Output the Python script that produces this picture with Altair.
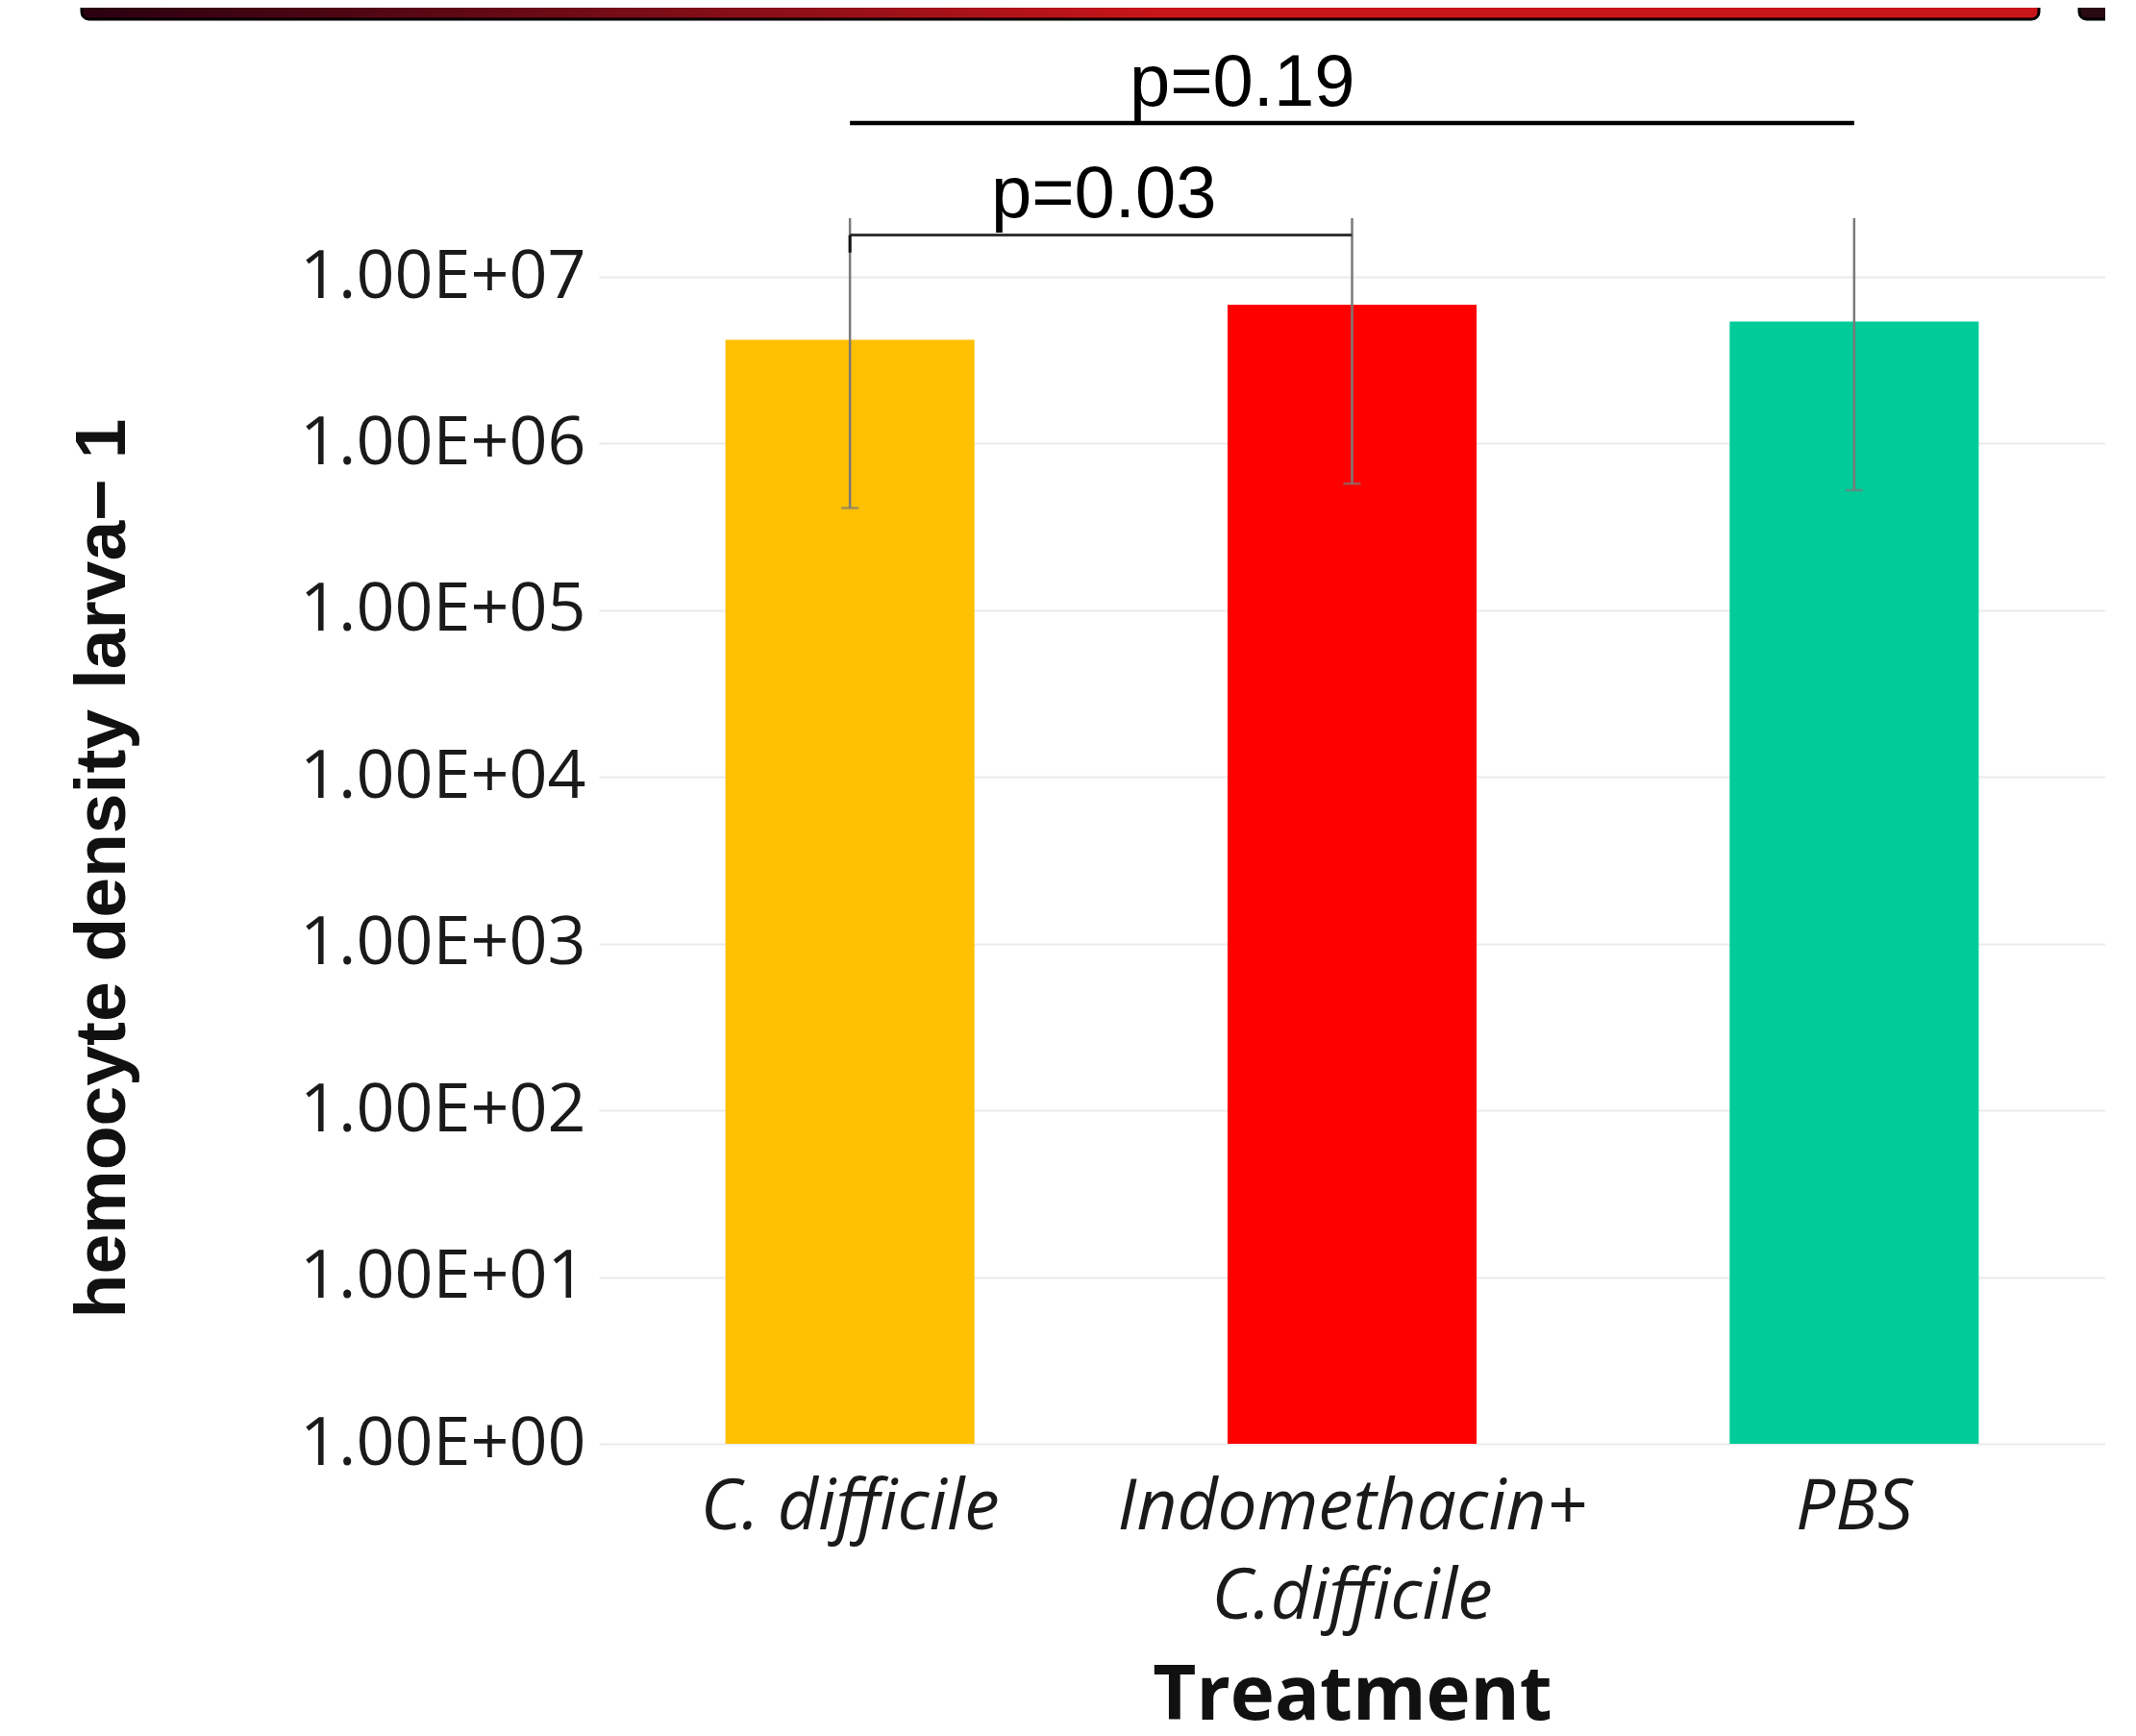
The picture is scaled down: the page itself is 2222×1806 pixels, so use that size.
import altair as alt
import pandas as pd

# ---- data ----
treatments = ["C. difficile", "Indomethacin+ C.difficile", "PBS"]
means = [4.2e6, 6.8e6, 5.4e6]
err_low = [4.1e5, 5.75e5, 5.25e5]
err_high = [4.0e7, 7.9e7, 5.2e7]
bar_colors = ["#FFC000", "#FF0000", "#00CC99"]
y_ticks = [1, 10, 100, 1e3, 1e4, 1e5, 1e6, 1e7]

# significance annotations (data space)
sig_labels = ["p=0.03", "p=0.19"]
sig_from = ["C. difficile", "C. difficile"]
sig_to = ["Indomethacin+ C.difficile", "PBS"]
sig_y = [1.78e7, 8.36e7]
bracket_leg_y = 1.4e7

df = pd.DataFrame({"Treatment": treatments, "mean": means, "lo": err_low, "hi": err_high})
sig = pd.DataFrame({"label": sig_labels, "a": sig_from, "b": sig_to, "y": sig_y})

W, H = 1567, 1275
x_scale = alt.Scale(domain=treatments, paddingInner=0.504, paddingOuter=0.252)
y_scale = alt.Scale(type="log", domain=[1, 10 ** 7.352], nice=False)

x_enc = alt.X(
    "Treatment:N",
    scale=x_scale,
    sort=treatments,
    axis=alt.Axis(
        title="Treatment",
        labelAngle=0,
        labelFont="Open Sans",
        labelFontStyle="italic",
        labelFontSize=73,
        labelColor="#1a1a1a",
        labelPadding=88,
        labelBaseline="alphabetic",
        labelLineHeight=93,
        labelLimit=2000,
        labelExpr="datum.value == 'Indomethacin+ C.difficile' ? ['Indomethacin+', 'C.difficile'] : datum.label",
        domain=False,
        ticks=False,
        tickSize=0,
        grid=False,
        titleFont="Open Sans",
        titleFontWeight="bold",
        titleFontSize=78,
        titleColor="#111111",
        titleBaseline="alphabetic",
        titleY=286,
        titleLimit=2000,
    ),
)

y_enc = alt.Y(
    "mean:Q",
    scale=y_scale,
    axis=alt.Axis(
        title="hemocyte density larva\u2212 1",
        values=y_ticks,
        labelExpr="'1.00E+0' + round(log(datum.value) / LN10)",
        labelFont="Open Sans",
        labelFontSize=70,
        labelColor="#1a1a1a",
        labelPadding=14,
        labelBaseline="middle",
        labelLimit=2000,
        domain=False,
        ticks=False,
        tickSize=0,
        grid=True,
        gridColor="#EBEBEB",
        gridWidth=2,
        titleFont="Liberation Sans",
        titleFontWeight="bold",
        titleFontSize=75,
        titleColor="#111111",
        titleAngle=270,
        titleAlign="center",
        titleBaseline="middle",
        titleX=-517,
        titleY=676,
        titleLimit=3000,
    ),
)

bars = alt.Chart(df).mark_bar().encode(
    x=x_enc,
    y=y_enc,
    y2=alt.Y2Datum(1),
    color=alt.Color("Treatment:N", scale=alt.Scale(domain=treatments, range=bar_colors), legend=None),
)

err = alt.Chart(df).mark_rule(color="#7a7a7a", strokeWidth=2.5, clip=True).encode(
    x=alt.X("Treatment:N", scale=x_scale, sort=treatments),
    y=alt.Y("lo:Q", scale=y_scale),
    y2="hi:Q",
)

caps = alt.Chart(df).mark_tick(color="#7a7a7a", size=18, thickness=2.5, orient="horizontal").encode(
    x=alt.X("Treatment:N", scale=x_scale, sort=treatments),
    y=alt.Y("lo:Q", scale=y_scale),
)

sig_low = sig[sig["label"] == "p=0.03"]
sig_high = sig[sig["label"] == "p=0.19"]

bracket = alt.Chart(sig_low).mark_rule(color="#333333", strokeWidth=3).encode(
    x=alt.X("a:N", scale=x_scale),
    x2="b:N",
    y=alt.Y("y:Q", scale=y_scale),
)

leg_df = pd.DataFrame({"a": [sig_from[0]], "y": [sig_y[0]], "y2": [bracket_leg_y]})
bracket_leg = alt.Chart(leg_df).mark_rule(color="#111111", strokeWidth=3).encode(
    x=alt.X("a:N", scale=x_scale),
    y=alt.Y("y:Q", scale=y_scale),
    y2="y2:Q",
)

top_line = alt.Chart(sig_high).mark_rule(color="#000000", strokeWidth=4.5).encode(
    x=alt.X("a:N", scale=x_scale),
    x2="b:N",
    y=alt.Y("y:Q", scale=y_scale),
)

txt_low = alt.Chart(sig_low).mark_text(
    font="Liberation Sans", fontSize=76, color="#000000", dx=264, dy=-19, baseline="alphabetic", align="center"
).encode(x=alt.X("a:N", scale=x_scale), y=alt.Y("y:Q", scale=y_scale), text="label:N")

txt_high = alt.Chart(sig_high).mark_text(
    font="Liberation Sans", fontSize=76, color="#000000", dx=408, dy=-18, baseline="alphabetic", align="center"
).encode(x=alt.X("a:N", scale=x_scale), y=alt.Y("y:Q", scale=y_scale), text="label:N")

# decorative slide banner at the top of the reference
grad = alt.LinearGradient(
    gradient="linear",
    stops=[
        alt.GradientStop(color="#2a0010", offset=0),
        alt.GradientStop(color="#8a0f18", offset=0.35),
        alt.GradientStop(color="#c8151a", offset=0.55),
        alt.GradientStop(color="#c8151a", offset=1),
    ],
    x1=0, x2=1, y1=0, y2=0,
)
banner = alt.Chart(pd.DataFrame({"k": [0]})).mark_rect(
    fill=grad, stroke="#000000", strokeWidth=3, cornerRadiusBottomLeft=12, cornerRadiusBottomRight=12
).encode(x=alt.value(-538), x2=alt.value(1498), y=alt.value(-222), y2=alt.value(-207))
banner2 = alt.Chart(pd.DataFrame({"k": [0]})).mark_rect(
    fill="#2a0a12", stroke="#000000", strokeWidth=3, cornerRadiusBottomLeft=12
).encode(x=alt.value(1540), x2=alt.value(1600), y=alt.value(-222), y2=alt.value(-207))

chart = (
    alt.layer(banner, banner2, bars, err, caps, bracket, bracket_leg, top_line, txt_low, txt_high)
    .properties(
        width=W,
        height=H,
        autosize=alt.AutoSizeParams(type="none"),
        padding={"left": 615, "top": 219, "right": 0, "bottom": 290},
        background="white",
    )
    .configure_view(stroke=None)
)

chart.save("out.html", embed_options={"renderer": "svg", "actions": False})
